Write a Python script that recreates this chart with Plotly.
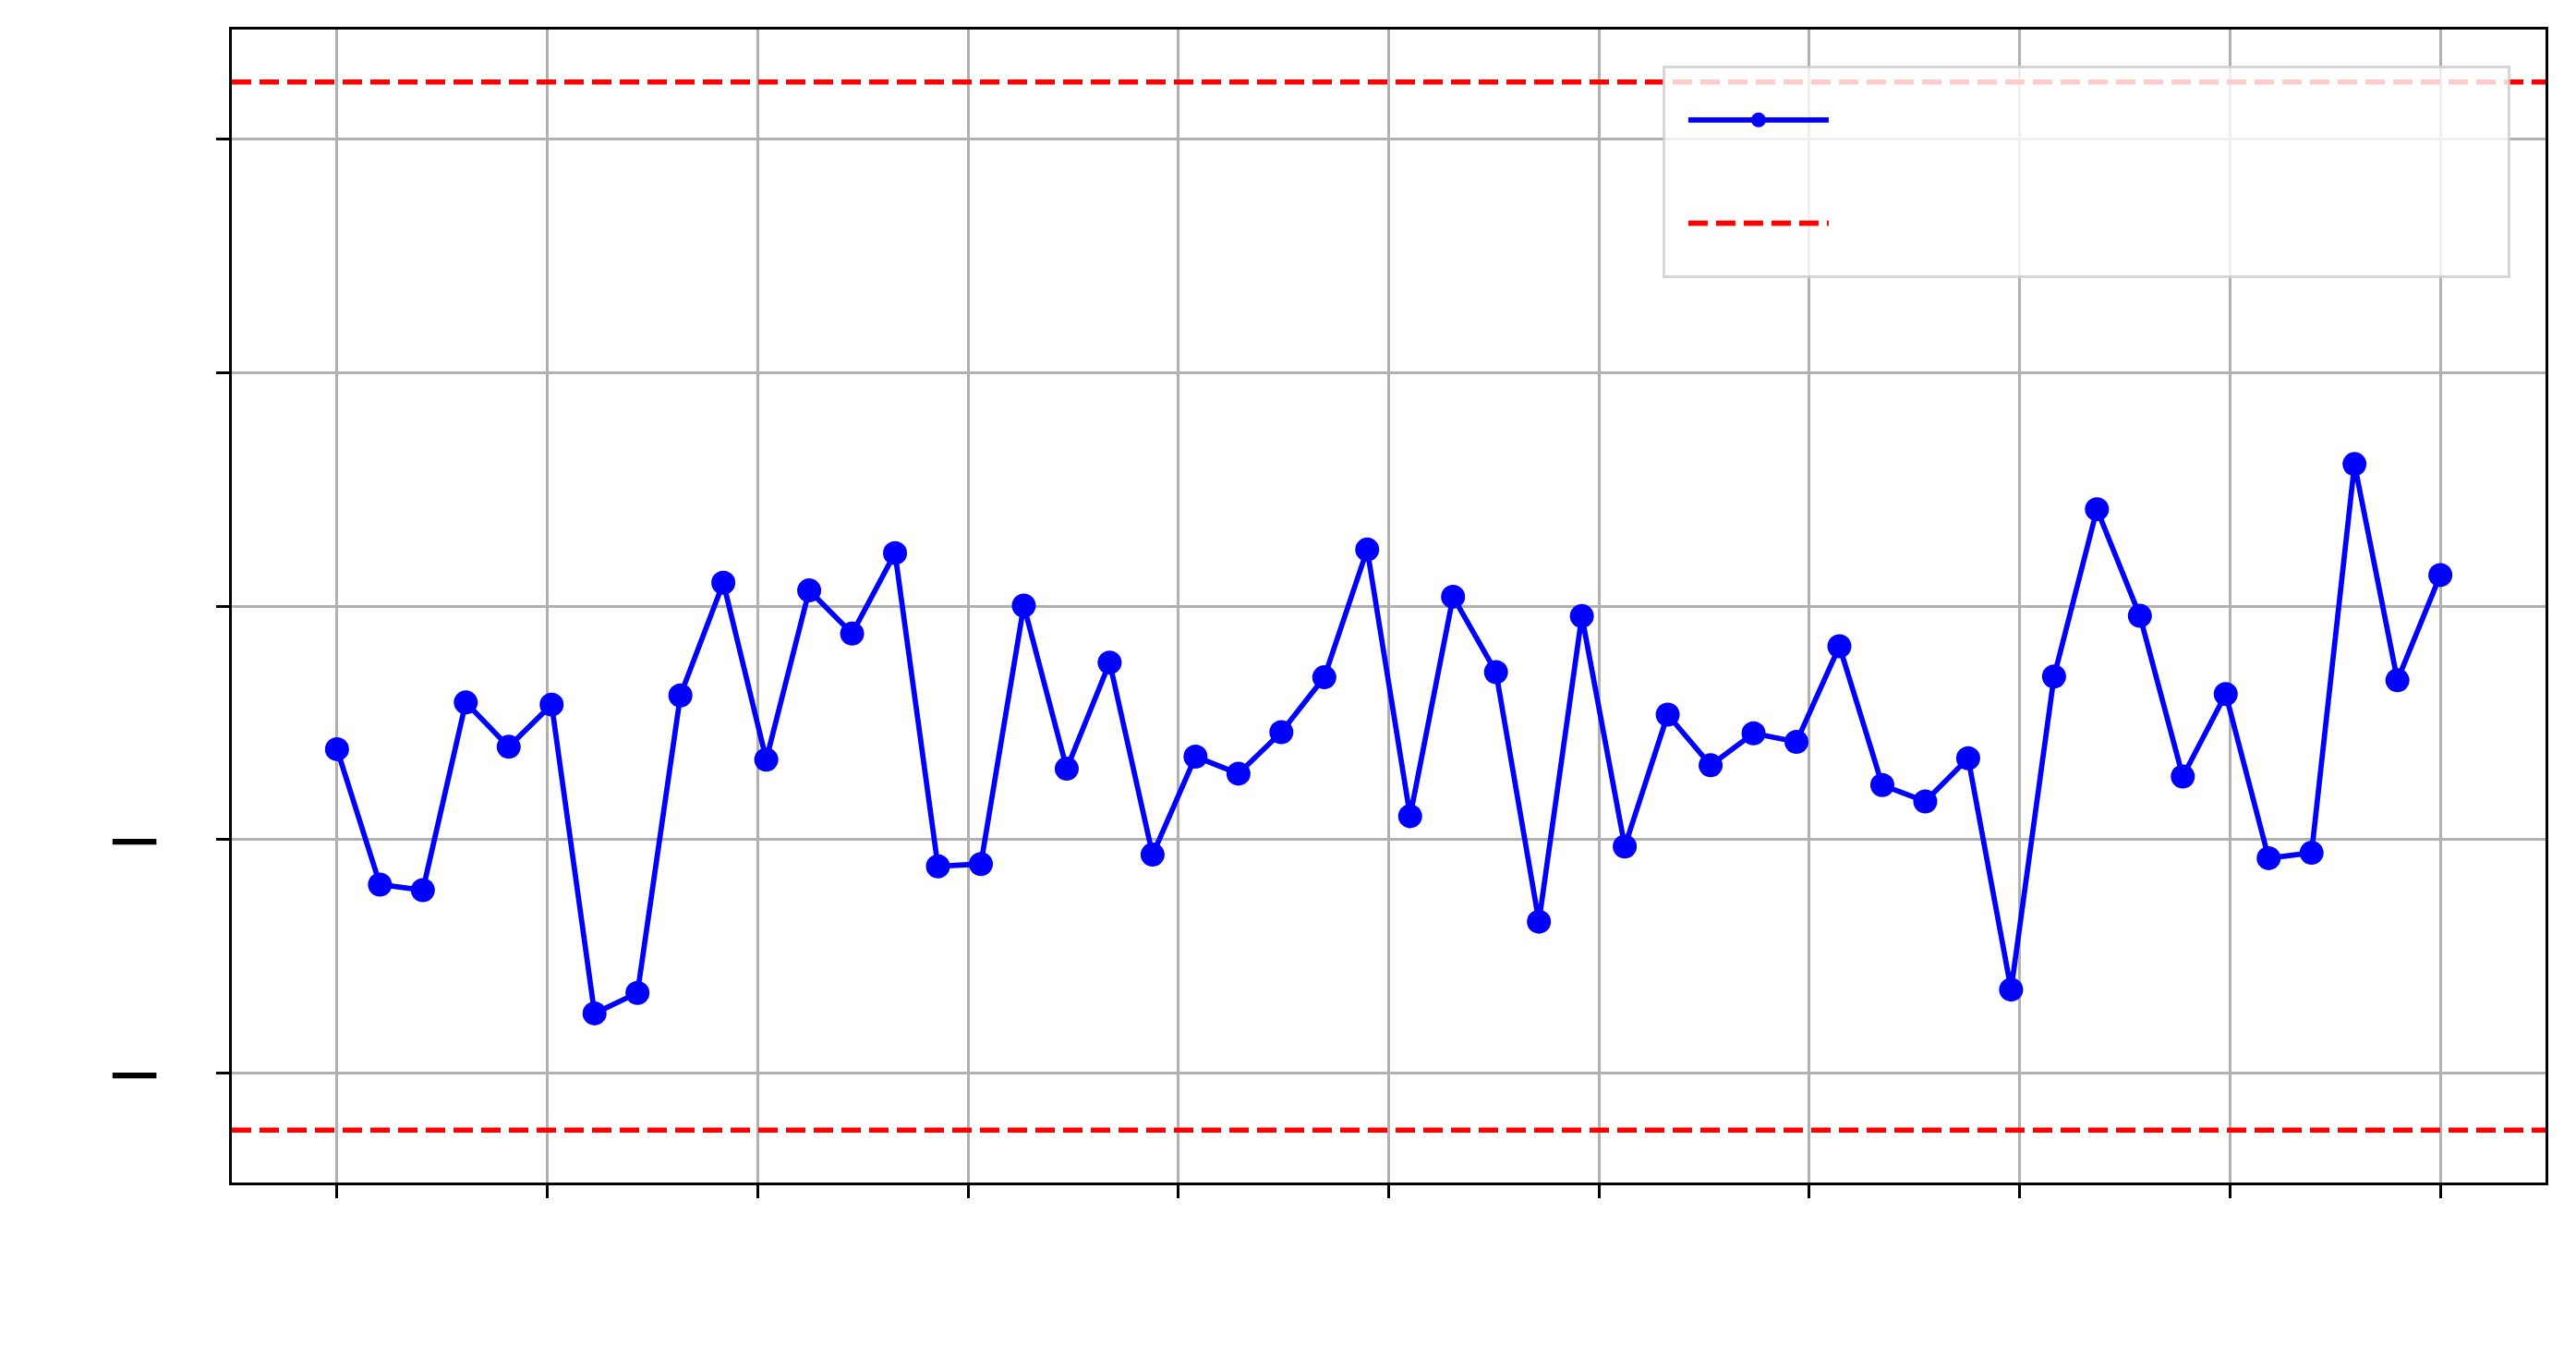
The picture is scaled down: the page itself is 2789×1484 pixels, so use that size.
import numpy as np
import plotly.graph_objects as go

# sample positions (50 evenly spaced samples over 0..10)
t = np.linspace(0, 10, 50)

# values
values = [-0.613, -1.193, -1.217, -0.413, -0.603, -0.422, -1.745, -1.657, -0.383, 0.100,
          -0.658, 0.067, -0.118, 0.227, -1.115, -1.105, 0.002, -0.697, -0.242, -1.065,
          -0.645, -0.718, -0.540, -0.305, 0.242, -0.900, 0.040, -0.283, -1.352, -0.043,
          -1.030, -0.465, -0.682, -0.545, -0.582, -0.172, -0.767, -0.837, -0.652, -1.643,
          -0.302, 0.415, -0.042, -0.730, -0.377, -1.080, -1.057, 0.608, -0.318, 0.133]
ucl = 2.245
lcl = -2.245

x_ticks = list(range(0, 11))
y_ticks = [-2, -1, 0, 1, 2]

series_name = "Measurements"
limits_name = "Control limit (±3\u2009σ)"

FONT = "DejaVu Sans"
LW = 3.0  # spine / grid / tick width
# the original render only shows the minus signs, the digits are not drawn
HIDE = "<span style='color:rgba(0,0,0,0)'>{}</span>"


def tick_label(v):
    if v < 0:
        return "\u2212" + HIDE.format(abs(v))
    return HIDE.format(v)


fig = go.Figure()

fig.add_trace(go.Scatter(
    x=t, y=values, mode="lines+markers", name=series_name,
    line=dict(color="#0000ff", width=5.7),
    marker=dict(color="#0000ff", size=26, line=dict(width=0)),
))

limit_line = dict(color="#ff0000", width=5.7, dash="21px,9px")
fig.add_hline(y=ucl, line=limit_line, name=limits_name, showlegend=True,
              legendgroup="limits")
fig.add_hline(y=lcl, line=limit_line, name=limits_name, showlegend=False,
              legendgroup="limits")

axis_common = dict(
    showgrid=True, gridcolor="#b0b0b0", gridwidth=LW,
    zeroline=False,
    showline=True, linecolor="black", linewidth=LW, mirror=True,
    ticks="outside", ticklen=14, tickwidth=LW, tickcolor="black",
    tickfont=dict(family=FONT, size=76, color="black"),
)

pad_y = (ucl - lcl) * 0.05
fig.update_xaxes(range=[-0.5, 10.5], tickmode="array", tickvals=x_ticks,
                 ticktext=[HIDE.format(v) for v in x_ticks], **axis_common)
fig.update_yaxes(range=[lcl - pad_y, ucl + pad_y], tickmode="array", tickvals=y_ticks,
                 ticktext=[tick_label(v) for v in y_ticks], ticklabelstandoff=-7,
                 **axis_common)

# page body has an 8px margin, so the figure is 16px smaller than the window
fig.update_layout(
    width=2773, height=1468,
    margin=dict(l=243, r=25, t=24, b=196, pad=0),
    plot_bgcolor="white", paper_bgcolor="white",
    font=dict(family=FONT),
    legend=dict(
        x=0.9848, y=0.9688, xanchor="right", yanchor="top",
        itemwidth=152, indentation=20,
        bgcolor="rgba(255,255,255,0.8)",
        bordercolor="rgba(204,204,204,0.8)", borderwidth=LW,
        font=dict(family=FONT, size=76, color="rgba(0,0,0,0)"),
    ),
)

fig.write_html("out.html")
